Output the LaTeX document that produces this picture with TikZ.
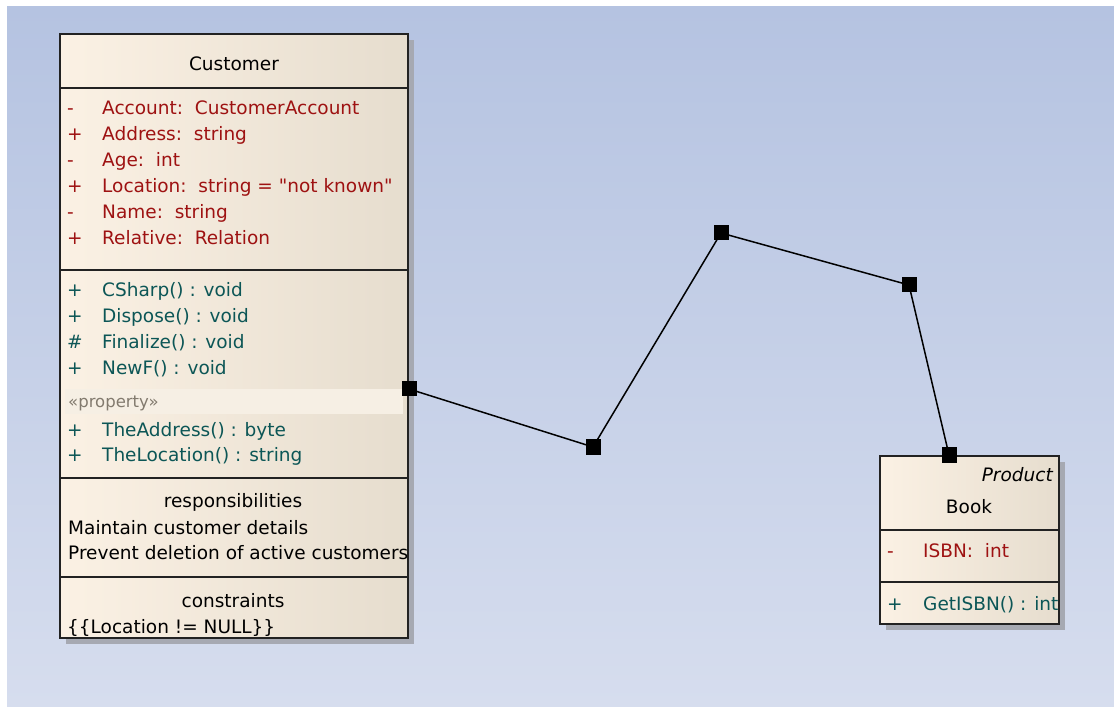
\documentclass[tikz,border=0pt]{standalone}
\usepackage{fontspec}
\setmainfont{DejaVu Sans}[Ligatures=TeXOff]
\usepackage{tikz}

\definecolor{bgtop}{RGB}{181,195,225}
\definecolor{bgbot}{RGB}{214,221,238}
\definecolor{boxleft}{RGB}{251,241,228}
\definecolor{boxright}{RGB}{230,221,206}
\definecolor{band}{RGB}{246,239,228}
\definecolor{shade}{RGB}{166,169,178}
\definecolor{edgedark}{RGB}{34,34,34}
\definecolor{attrred}{RGB}{158,18,18}
\definecolor{opteal}{RGB}{12,86,86}
\definecolor{stereo}{RGB}{130,122,110}

\tikzset{
	classbox/.style={draw=edgedark, line width=1.8pt, left color=boxleft, right color=boxright},
	boxshadow/.style={fill=shade},
	divider/.style={draw=edgedark, line width=1.4pt},
	txt/.style={anchor=base west, inner sep=0pt, font=\fontsize{18.5}{22}\selectfont},
	head/.style={txt, anchor=base},
	attr/.style={txt, text=attrred},
	oper/.style={txt, text=opteal},
	handle/.style={fill=black, inner sep=0pt, minimum size=15pt},
	link/.style={line width=1.5pt, black}
}

\begin{document}
\begin{tikzpicture}[x=1pt, y=-1pt]
		%%%%% START %%%%%
		\useasboundingbox[fill=white] (0, 0) rectangle (1114, 708);
		\shade[top color=bgtop, bottom color=bgbot] (7, 7) rectangle (1114, 706);
		
		% Customer
		\fill[boxshadow] (66, 40) rectangle (414, 644);
		\draw[classbox] (60, 34) rectangle (408, 638);
		\fill[band] (65, 389) rectangle (403, 414);
		\draw[divider] (60, 88) -- (408, 88);
		\draw[divider] (60, 270) -- (408, 270);
		\draw[divider] (60, 478) -- (408, 478);
		\draw[divider] (60, 577) -- (408, 577);
		
		\begin{scope}
			\clip (61, 35) rectangle (407, 637);
			\node[head] (custname) at (234, 71) {Customer};
			
			\node[attr] (a1s) at (67, 115) {-};
			\node[attr] (a1) at (102, 115) {Account:\ \ CustomerAccount};
			\node[attr] (a2s) at (67, 141) {+};
			\node[attr] (a2) at (102, 141) {Address:\ \ string};
			\node[attr] (a3s) at (67, 167) {-};
			\node[attr] (a3) at (102, 167) {Age:\ \ int};
			\node[attr] (a4s) at (67, 193) {+};
			\node[attr] (a4) at (102, 193) {Location:\ \ string = "not known"};
			\node[attr] (a5s) at (67, 219) {-};
			\node[attr] (a5) at (102, 219) {Name:\ \ string};
			\node[attr] (a6s) at (67, 245) {+};
			\node[attr] (a6) at (102, 245) {Relative:\ \ Relation};
			
			\node[oper] (o1s) at (67, 297) {+};
			\node[oper] (o1) at (102, 297) {CSharp() : void};
			\node[oper] (o2s) at (67, 323) {+};
			\node[oper] (o2) at (102, 323) {Dispose() : void};
			\node[oper] (o3s) at (67, 349) {\#};
			\node[oper] (o3) at (102, 349) {Finalize() : void};
			\node[oper] (o4s) at (67, 375) {+};
			\node[oper] (o4) at (102, 375) {NewF() : void};
			\node[txt, text=stereo, font=\fontsize{16.5}{20}\selectfont] (prop) at (68, 408) {«property»};
			\node[oper] (o5s) at (67, 436) {+};
			\node[oper] (o5) at (102, 436) {TheAddress() : byte};
			\node[oper] (o6s) at (67, 461) {+};
			\node[oper] (o6) at (102, 461) {TheLocation() : string};
			
			\node[head] (resp) at (233, 507) {responsibilities};
			\node[txt] (resp1) at (68, 534) {Maintain customer details};
			\node[txt] (resp2) at (68, 559.5) {Prevent deletion of active customers};
			
			\node[head] (cons) at (233, 607) {constraints};
			\node[txt] (cons1) at (67, 633) {\{\{Location != NULL\}\}};
		\end{scope}
		
		% Book
		\fill[boxshadow] (886, 462) rectangle (1065, 630);
		\draw[classbox] (880, 456) rectangle (1059, 624);
		\draw[divider] (880, 530) -- (1059, 530);
		\draw[divider] (880, 582) -- (1059, 582);
		
		\begin{scope}
			\clip (881, 457) rectangle (1058, 623);
			\node[txt, anchor=base east, font=\fontsize{18.5}{22}\selectfont\itshape] (stype) at (1053, 481) {Product};
			\node[head] (bookname) at (969, 513) {Book};
			\node[attr] (b1s) at (887, 557) {-};
			\node[attr] (b1) at (923, 557) {ISBN:\ \ int};
			\node[oper] (b2s) at (887, 610) {+};
			\node[oper] (b2) at (923, 610) {GetISBN() : int};
		\end{scope}
		
		% association with its bend points
		\node[handle] (h0) at (409, 389) {};
		\node[handle] (h1) at (593, 447) {};
		\node[handle] (h2) at (721, 233) {};
		\node[handle] (h3) at (909, 285) {};
		\node[handle] (h4) at (949, 455) {};
		\draw[link] (h0.center) -- (h1.center) -- (h2.center) -- (h3.center) -- (h4.center);
		
		%%%%% END %%%%%
	\end{tikzpicture}
\end{document}
